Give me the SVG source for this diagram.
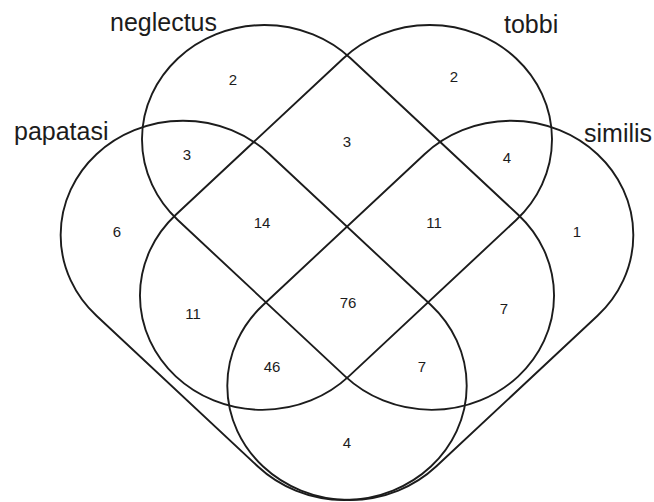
<svg xmlns="http://www.w3.org/2000/svg" width="654" height="502" viewBox="0 0 654 502">
<style>
.set{fill:none;stroke:#1c1c1c;stroke-width:1.9;stroke-linejoin:round}
.lbl{font-family:"Liberation Sans",Arial,sans-serif;font-size:25px;fill:#1c1c1c}
.num{font-family:"Liberation Sans",Arial,sans-serif;font-size:15px;fill:#1c1c1c;text-anchor:middle}
</style>
<rect width="654" height="502" fill="#ffffff"/>
<g id="neglectus">
<path class="set" d="M350.8,58.5 L518.2,214.8 A122.3,114.2 0 0 1 345.2,376.4 L177.8,220 A122.3,114.2 0 0 1 350.8,58.5 Z"/>
<text class="lbl" x="110" y="31">neglectus</text>
</g>
<g id="tobbi">
<path class="set" d="M343.2,58.5 L175.8,214.8 A122.3,114.2 0 0 0 348.8,376.4 L516.2,220 A122.3,114.2 0 0 0 343.2,58.5 Z"/>
<text class="lbl" x="504" y="33">tobbi</text>
</g>
<g id="papatasi">
<path class="set" d="M269.5,154.2 L430.9,305 A122.3,114.2 0 0 1 257.9,466.5 L96.5,315.8 A122.3,114.2 0 0 1 269.5,154.2 Z"/>
<text class="lbl" x="14" y="140">papatasi</text>
</g>
<g id="similis">
<path class="set" d="M424.5,154.2 L263.1,305 A122.3,114.2 0 0 0 436.1,466.5 L597.5,315.8 A122.3,114.2 0 0 0 424.5,154.2 Z"/>
<text class="lbl" x="584" y="142">similis</text>
</g>
<g id="counts">
<text class="num" x="233" y="85">2</text>
<text class="num" x="454" y="82">2</text>
<text class="num" x="187" y="160">3</text>
<text class="num" x="347" y="147">3</text>
<text class="num" x="507" y="163">4</text>
<text class="num" x="262" y="228">14</text>
<text class="num" x="434" y="228">11</text>
<text class="num" x="117" y="237">6</text>
<text class="num" x="577" y="237">1</text>
<text class="num" x="193" y="319">11</text>
<text class="num" x="348" y="308">76</text>
<text class="num" x="504" y="314">7</text>
<text class="num" x="272" y="372">46</text>
<text class="num" x="422" y="372">7</text>
<text class="num" x="347" y="448">4</text>
</g>
<g id="connectors"/>
</svg>
